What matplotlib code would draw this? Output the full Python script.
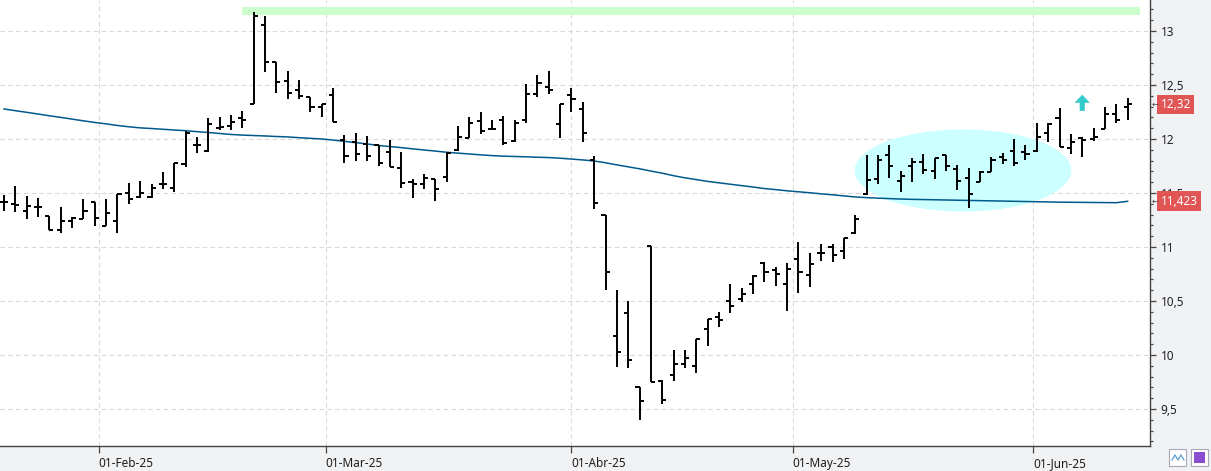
import numpy as np
import pandas as pd
import matplotlib
matplotlib.use("Agg")
import matplotlib.pyplot as plt
from matplotlib.patches import Ellipse, FancyArrow, Rectangle
from matplotlib.lines import Line2D
from matplotlib.ticker import MultipleLocator, FuncFormatter

plt.rcParams["font.family"] = ["Noto Sans", "DejaVu Sans"]

# sessions shown on the chart (market holidays removed)
holidays = ["2025-04-18", "2025-04-21", "2025-05-01"]
dates = pd.bdate_range("2025-01-21", "2025-06-12")
dates = dates[~dates.isin(pd.to_datetime(holidays))]

opens = [11.42, 11.40, 11.33, 11.37, 11.29, 11.16, 11.24, 11.26, 11.42, 11.19,
         11.24, 11.50, 11.46, 11.46, 11.58, 11.55, 11.77, 11.94, 11.89, 12.10,
         12.12, 12.19, 12.32, 13.06, 12.71, 12.54, 12.45, 12.39, 12.30, 12.41,
         11.99, 11.97, 11.95, 11.94, 11.88, 11.73, 11.60, 11.58, 11.63, 11.65,
         11.90, 12.01, 12.17, 12.09, 12.18, 11.98, 12.18, 12.42, 12.48, 12.14,
         12.41, 12.28, 11.81, 11.30, 10.18, 10.39, 9.70, 11.01, 9.76, 9.81,
         9.92, 9.90, 10.24, 10.35, 10.50, 10.52, 10.66, 10.85, 10.79, 10.66,
         10.89, 10.74, 10.94, 11.00, 10.96, 11.13, 11.49, 11.63, 11.85, 11.61,
         11.75, 11.79, 11.70, 11.85, 11.72, 11.64, 11.60, 11.69, 11.83, 11.89,
         11.88, 11.89, 12.06, 12.19, 11.92, 12.01, 12.00, 12.09, 12.23, 12.30]
highs = [11.48, 11.56, 11.47, 11.45, 11.29, 11.37, 11.28, 11.44, 11.42, 11.44,
         11.49, 11.59, 11.61, 11.58, 11.69, 11.78, 12.07, 12.02, 12.19, 12.20,
         12.22, 12.26, 13.18, 13.14, 12.71, 12.63, 12.55, 12.39, 12.32, 12.47,
         12.04, 12.06, 12.03, 11.94, 11.99, 11.88, 11.63, 11.68, 11.63, 11.88,
         12.12, 12.20, 12.25, 12.18, 12.21, 12.18, 12.51, 12.59, 12.63, 12.32,
         12.47, 12.34, 11.84, 11.30, 10.60, 10.50, 9.70, 11.01, 9.77, 10.05,
         10.05, 10.15, 10.33, 10.40, 10.66, 10.62, 10.74, 10.86, 10.81, 10.85,
         11.05, 10.94, 11.03, 11.03, 11.08, 11.30, 11.85, 11.85, 11.94, 11.70,
         11.82, 11.86, 11.82, 11.85, 11.76, 11.73, 11.70, 11.83, 11.87, 12.00,
         11.94, 12.15, 12.15, 12.29, 12.05, 12.02, 12.10, 12.30, 12.32, 12.38]
lows = [11.33, 11.32, 11.26, 11.28, 11.16, 11.13, 11.18, 11.26, 11.19, 11.19,
        11.13, 11.40, 11.45, 11.45, 11.54, 11.51, 11.74, 11.87, 11.88, 12.08,
        12.08, 12.10, 12.32, 12.62, 12.43, 12.37, 12.37, 12.25, 12.20, 12.16,
        11.78, 11.80, 11.80, 11.75, 11.74, 11.55, 11.45, 11.54, 11.43, 11.60,
        11.89, 12.01, 12.05, 12.08, 11.94, 11.97, 12.15, 12.39, 12.42, 12.01,
        12.25, 11.97, 11.35, 10.60, 9.89, 9.88, 9.40, 9.75, 9.55, 9.76,
        9.88, 9.83, 10.08, 10.26, 10.39, 10.49, 10.56, 10.68, 10.64, 10.41,
        10.57, 10.63, 10.87, 10.86, 10.89, 11.12, 11.48, 11.58, 11.64, 11.51,
        11.60, 11.68, 11.63, 11.70, 11.53, 11.36, 11.60, 11.69, 11.77, 11.75,
        11.81, 11.88, 11.97, 11.93, 11.86, 11.83, 11.98, 12.09, 12.15, 12.18]
closes = [11.42, 11.39, 11.38, 11.37, 11.16, 11.24, 11.27, 11.33, 11.27, 11.31,
          11.49, 11.44, 11.50, 11.55, 11.58, 11.78, 12.06, 11.94, 12.14, 12.11,
          12.16, 12.18, 13.14, 12.71, 12.53, 12.43, 12.40, 12.30, 12.32, 12.16,
          11.84, 11.86, 11.84, 11.78, 11.74, 11.59, 11.58, 11.64, 11.54, 11.87,
          12.02, 12.15, 12.07, 12.09, 11.96, 12.15, 12.42, 12.52, 12.45, 12.32,
          12.37, 12.06, 11.41, 10.77, 10.03, 9.95, 9.57, 9.75, 9.58, 9.92,
          9.97, 10.15, 10.33, 10.32, 10.45, 10.56, 10.73, 10.77, 10.75, 10.80,
          10.77, 10.84, 10.94, 10.93, 11.08, 11.26, 11.62, 11.81, 11.75, 11.66,
          11.79, 11.71, 11.82, 11.75, 11.61, 11.49, 11.69, 11.81, 11.81, 11.78,
          11.86, 12.02, 12.14, 11.93, 11.97, 11.99, 12.02, 12.23, 12.18, 12.32]

# moving average line
ma = [12.278, 12.262, 12.247, 12.231, 12.215, 12.200, 12.184, 12.168, 12.153, 12.140,
      12.125, 12.113, 12.103, 12.097, 12.090, 12.083, 12.077, 12.068, 12.060, 12.051,
      12.042, 12.036, 12.032, 12.028, 12.023, 12.019, 12.012, 12.006, 12.000, 11.990,
      11.978, 11.966, 11.954, 11.940, 11.930, 11.920, 11.909, 11.898, 11.888, 11.877,
      11.869, 11.861, 11.853, 11.846, 11.841, 11.838, 11.835, 11.831, 11.828, 11.822,
      11.814, 11.806, 11.796, 11.780, 11.760, 11.742, 11.724, 11.703, 11.683, 11.660,
      11.640, 11.624, 11.607, 11.594, 11.581, 11.568, 11.555, 11.541, 11.531, 11.520,
      11.511, 11.502, 11.492, 11.483, 11.473, 11.463, 11.457, 11.452, 11.448, 11.444,
      11.441, 11.439, 11.437, 11.435, 11.433, 11.431, 11.429, 11.427, 11.425, 11.423,
      11.421, 11.419, 11.417, 11.415, 11.414, 11.413, 11.412, 11.411, 11.410, 11.423]

month_starts = ["2025-02-01", "2025-03-01", "2025-04-01", "2025-05-01", "2025-06-01"]
month_labels = ["01-Feb-25", "01-Mar-25", "01-Abr-25", "01-May-25", "01-Jun-25"]

y_ticks = [9.5, 10, 10.5, 11, 11.5, 12, 12.5, 13]
last_price = 12.32
last_ma = 11.423

# drawn annotations: resistance band, consolidation zone, up arrow
resist_lo, resist_hi = 13.148, 13.222
resist_from, resist_to = 21, 100.1
zone_center, zone_value = 84.5, 11.708
zone_len, zone_span = 19.1, 0.76
arrow_at, arrow_base, arrow_top = 95, 12.26, 12.41

x = np.arange(len(dates))
ord_days = np.array([d.toordinal() for d in dates])
month_pos = np.interp([pd.Timestamp(m).toordinal() for m in month_starts], ord_days, x)

fig = plt.figure(figsize=(12.11, 4.71), dpi=100)
fig.patch.set_facecolor("#f1f2f4")
ax = fig.add_axes([0, 25 / 471, 1150 / 1211, 446 / 471])
ax.set_facecolor("white")

# annotations behind the bars
ax.fill_between([resist_from, resist_to], resist_lo, resist_hi, color="#ccffcc", lw=0, zorder=1)
ax.add_patch(Ellipse((zone_center, zone_value), zone_len, zone_span,
                     facecolor="#ccffff", edgecolor="none", zorder=1))
ax.add_patch(FancyArrow(arrow_at, arrow_base, 0, arrow_top - arrow_base, width=0.45,
                        head_width=1.35, head_length=0.075, length_includes_head=True,
                        color="#33cccc", lw=0, zorder=3))

ax.plot(x, ma, color="#005a8c", lw=1.1, zorder=2)

# OHLC bars
tick = 0.36
ax.vlines(x, lows, highs, color="black", lw=1.4, zorder=4)
ax.hlines(opens, x - tick, x, color="black", lw=1.4, zorder=4)
ax.hlines(closes, x, x + tick, color="black", lw=1.4, zorder=4)

ax.set_xlim(-0.35, 100.97)
ax.set_ylim(9.157, 13.287)

ax.yaxis.tick_right()
ax.set_yticks(y_ticks)
ax.yaxis.set_minor_locator(MultipleLocator(0.1))
ax.yaxis.set_major_formatter(FuncFormatter(lambda v, p: f"{v:g}".replace(".", ",")))
ax.tick_params(axis="y", which="major", length=4.5, width=0.9, color="#444",
               labelsize=8.5, labelcolor="#1e1e2e", pad=3)
ax.tick_params(axis="y", which="minor", length=2.3, width=0.9, color="#444")

ax.set_xticks(month_pos, month_labels)
for lbl in ax.get_xticklabels():
    lbl.set_ha("left")
ax.tick_params(axis="x", length=5, width=0.9, color="#444", labelsize=8.5,
               labelcolor="#1e1e1e", pad=3)

ax.grid(True, which="major", color="#d9d9d9", linestyle=(0, (4, 3)), lw=0.8)
ax.set_axisbelow(True)

for side in ["top", "left"]:
    ax.spines[side].set_visible(False)
for side in ["right", "bottom"]:
    ax.spines[side].set_color("#444")
    ax.spines[side].set_linewidth(1)

# price flags on the right axis
ytr = ax.get_yaxis_transform()
for val, txt in [(last_price, "12,32"), (last_ma, "11,423")]:
    ax.text(1.0092, val, txt, transform=ytr, ha="left", va="center", fontsize=8.5,
            color="white", clip_on=False,
            bbox=dict(boxstyle="square,pad=0.28", fc="#e15555", ec="none"))
    ax.text(1.0012, val, "←", transform=ytr, ha="left", va="center", fontsize=6,
            color="#444", clip_on=False)

# small toolbar buttons bottom right
for bx in [1169, 1191]:
    fig.add_artist(Rectangle((bx / 1211, 5 / 471), 17 / 1211, 17 / 471, transform=fig.transFigure,
                             fc="white", ec="#a8a8b8", lw=0.8))
fig.add_artist(Line2D(np.array([1172, 1175, 1178, 1181, 1184]) / 1211,
                      np.array([11, 16, 11, 16, 11]) / 471, transform=fig.transFigure,
                      color="#5b9bd5", lw=0.9))
fig.add_artist(Rectangle((1194 / 1211, 8 / 471), 11 / 1211, 11 / 471, transform=fig.transFigure,
                         fc="#8a4fd0", ec="none"))

fig.savefig("out.png", dpi=100, facecolor=fig.get_facecolor())
